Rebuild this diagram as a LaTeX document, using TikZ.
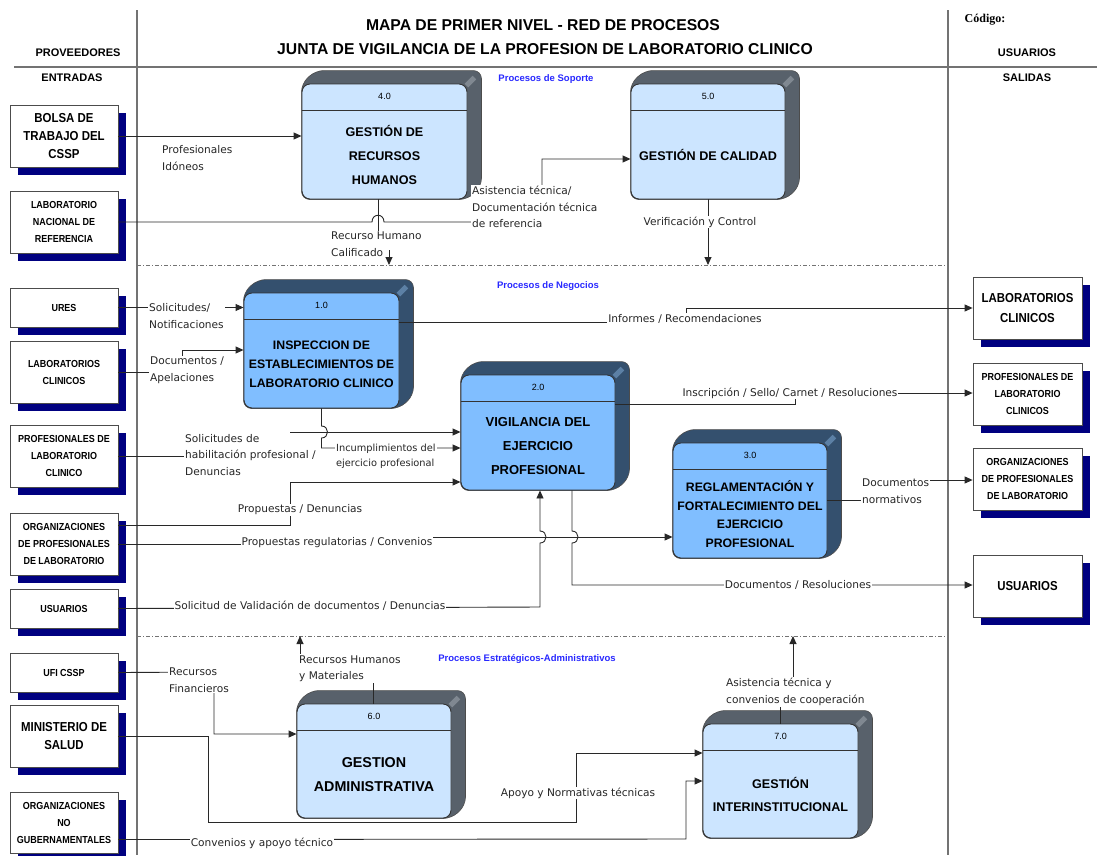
\documentclass[tikz,border=0pt]{standalone}
\usepackage{fontspec}
\setmainfont{Liberation Sans}
\newfontfamily\entfont[FakeStretch=0.88]{Liberation Sans}
\newfontfamily\lblfont{DejaVu Sans}
\newfontfamily\codfont{Liberation Serif}
\usetikzlibrary{arrows.meta,calc,shadows,backgrounds}
\definecolor{navyshadow}{RGB}{0,0,128}
\definecolor{lightface}{RGB}{204,229,255}
\definecolor{medface}{RGB}{128,190,255}
\definecolor{lightside}{RGB}{88,97,107}
\definecolor{medside}{RGB}{52,80,110}
\definecolor{lightbevel}{RGB}{128,136,145}
\definecolor{medbevel}{RGB}{92,128,165}
\definecolor{procblue}{RGB}{40,40,255}
\definecolor{framegray}{RGB}{115,115,115}
\definecolor{linegray}{RGB}{40,40,40}

\begin{document}
\begin{tikzpicture}
[
  x=1pt, y=-1pt,
  >={Triangle[length=8pt,width=7pt]},
  ent/.style={draw=black!70, fill=white, line width=0.8pt, align=center, inner sep=1pt,
    minimum width=108, minimum height=62,
    drop shadow={shadow xshift=8pt, shadow yshift=-8pt, fill=navyshadow, opacity=1}},
  bigent/.style={ent, font=\entfont\bfseries\fontsize{13}{18}\selectfont},
  smallent/.style={ent, font=\entfont\bfseries\fontsize{10.2}{17}\selectfont},
  pface/.style={draw=black!80, line width=0.9pt, rounded corners=8pt},
  lface/.style={pface, fill=lightface},
  mface/.style={pface, fill=medface},
  lside/.style={fill=lightside, draw=black!70, line width=0.6pt, rounded corners=8pt},
  mside/.style={fill=medside, draw=black!70, line width=0.6pt, rounded corners=8pt},
  lbev/.style={draw=lightbevel, line width=5pt},
  mbev/.style={draw=medbevel, line width=5pt},
  hdline/.style={draw=black!80, line width=0.9pt},
  pnum/.style={font=\fontsize{9}{10}\selectfont, inner sep=0pt},
  ptitle/.style={font=\bfseries\fontsize{12.6}{24}\selectfont, align=center, inner sep=0pt},
  flow/.style={->, line width=0.9pt, draw=linegray},
  lbl/.style={font=\lblfont\fontsize{10.6}{16.5}\selectfont, fill=white, inner sep=1pt, align=left, text=black!85},
  divline/.style={draw=framegray, line width=1pt, dash pattern=on 4pt off 2pt on 1pt off 2pt},
  frameline/.style={draw=framegray, line width=1.2pt},
  grouplbl/.style={font=\bfseries\fontsize{9.5}{11}\selectfont, text=procblue},
  colhead/.style={font=\bfseries\fontsize{11}{13}\selectfont}
]
\useasboundingbox (0,0) rectangle (1097,855);

% frame and headings
\draw[frameline] (137,10) -- (137,855);
\draw[frameline] (948,10) -- (948,855);
\draw[frameline] (14,67) -- (1097,67);
\draw[divline] (137,265) -- (948,265);
\draw[divline] (137,636) -- (948,636);

\node[font=\bfseries\fontsize{15.7}{18}\selectfont] (title1) at (543,25) {MAPA DE PRIMER NIVEL - RED DE PROCESOS};
\node[font=\bfseries\fontsize{15.7}{18}\selectfont] (title2) at (545,49) {JUNTA DE VIGILANCIA DE LA PROFESION DE LABORATORIO CLINICO};
\node[colhead] (prov) at (78,53) {PROVEEDORES};
\node[colhead] (entr) at (72,78) {ENTRADAS};
\node[font=\codfont\bfseries\fontsize{12}{14}\selectfont] (cod) at (985,20) {Código:};
\node[colhead] (usuh) at (1027,53) {USUARIOS};
\node[colhead] (sal) at (1027,78) {SALIDAS};

\node[grouplbl] (gsop) at (546,79) {Procesos de Soporte};
\node[grouplbl] (gneg) at (548,286) {Procesos de Negocios};
\node[grouplbl] (gest) at (527,659) {Procesos Estratégicos-Administrativos};

% providers
\node[bigent] (bolsa) at (64,136) {BOLSA DE\\TRABAJO DEL\\CSSP};
\node[smallent] (lnr) at (64,222) {LABORATORIO\\NACIONAL DE\\REFERENCIA};
\node[smallent, minimum height=39] (ures) at (64,307.5) {URES};
\node[smallent] (labcl) at (64,372) {LABORATORIOS\\CLINICOS};
\node[smallent] (proflab) at (64,456) {PROFESIONALES DE\\LABORATORIO\\CLINICO};
\node[smallent] (orgprof) at (64,544) {ORGANIZACIONES\\DE PROFESIONALES\\DE LABORATORIO};
\node[smallent, minimum height=39] (usu) at (64,608.5) {USUARIOS};
\node[smallent, minimum height=39] (ufi) at (64,672.5) {UFI CSSP};
\node[bigent] (minsal) at (64,736) {MINISTERIO DE\\SALUD};
\node[smallent, minimum height=61] (ong) at (64,822.5) {ORGANIZACIONES\\NO\\GUBERNAMENTALES};

% users
\node[bigent, minimum width=109, font=\entfont\bfseries\fontsize{13}{20}\selectfont] (rlab) at (1027.5,308) {LABORATORIOS\\CLINICOS};
\node[smallent, minimum width=109] (rprof) at (1027.5,394) {PROFESIONALES DE\\LABORATORIO\\CLINICOS};
\node[smallent, minimum width=109] (rorg) at (1027.5,479) {ORGANIZACIONES\\DE PROFESIONALES\\DE LABORATORIO};
\node[bigent, minimum width=109] (rusu) at (1027.5,586) {USUARIOS};

% processes
\node[lface, minimum width=165, minimum height=115] (p4) at (384.5,141.5) {};
\node[lface, minimum width=154, minimum height=115] (p5) at (708,141.5) {};
\node[mface, minimum width=155, minimum height=115] (p1) at (321.5,350.5) {};
\node[mface, minimum width=154, minimum height=115] (p2) at (538,432.5) {};
\node[mface, minimum width=154, minimum height=115] (p3) at (750,500.5) {};
\node[lface, minimum width=154, minimum height=114] (p6) at (374,761) {};
\node[lface, minimum width=155, minimum height=114] (p7) at (780.5,781) {};

\begin{scope}[on background layer]
\draw[lside] (p4.north west) -- ++(14,-13) -| ($(p4.south east)+(14,-13)$) -- (p4.south east) -- (p4.south west) -- cycle;
\draw[lside] (p5.north west) -- ++(14,-13) -| ($(p5.south east)+(14,-13)$) -- (p5.south east) -- (p5.south west) -- cycle;
\draw[mside] (p1.north west) -- ++(14,-13) -| ($(p1.south east)+(14,-13)$) -- (p1.south east) -- (p1.south west) -- cycle;
\draw[mside] (p2.north west) -- ++(14,-13) -| ($(p2.south east)+(14,-13)$) -- (p2.south east) -- (p2.south west) -- cycle;
\draw[mside] (p3.north west) -- ++(14,-13) -| ($(p3.south east)+(14,-13)$) -- (p3.south east) -- (p3.south west) -- cycle;
\draw[lside] (p6.north west) -- ++(14,-13) -| ($(p6.south east)+(14,-13)$) -- (p6.south east) -- (p6.south west) -- cycle;
\draw[lside] (p7.north west) -- ++(14,-13) -| ($(p7.south east)+(14,-13)$) -- (p7.south east) -- (p7.south west) -- cycle;
% bevel on the upper right edge
\draw[lbev] ($(p4.north east)+(-1,2)$) -- ($(p4.north east)+(7,-6)$);
\draw[lbev] ($(p5.north east)+(-1,2)$) -- ($(p5.north east)+(7,-6)$);
\draw[mbev] ($(p1.north east)+(-1,2)$) -- ($(p1.north east)+(7,-6)$);
\draw[mbev] ($(p2.north east)+(-1,2)$) -- ($(p2.north east)+(7,-6)$);
\draw[mbev] ($(p3.north east)+(-1,2)$) -- ($(p3.north east)+(7,-6)$);
\draw[lbev] ($(p6.north east)+(-1,2)$) -- ($(p6.north east)+(7,-6)$);
\draw[lbev] ($(p7.north east)+(-1,2)$) -- ($(p7.north east)+(7,-6)$);
\end{scope}

\draw[hdline] ($(p4.north west)+(0,27)$) -- ($(p4.north east)+(0,27)$);
\draw[hdline] ($(p5.north west)+(0,27)$) -- ($(p5.north east)+(0,27)$);
\draw[hdline] ($(p1.north west)+(0,27)$) -- ($(p1.north east)+(0,27)$);
\draw[hdline] ($(p2.north west)+(0,27)$) -- ($(p2.north east)+(0,27)$);
\draw[hdline] ($(p3.north west)+(0,27)$) -- ($(p3.north east)+(0,27)$);
\draw[hdline] ($(p6.north west)+(0,27)$) -- ($(p6.north east)+(0,27)$);
\draw[hdline] ($(p7.north west)+(0,27)$) -- ($(p7.north east)+(0,27)$);

\node[pnum] (n4) at ($(p4.north)+(0,13)$) {4.0};
\node[pnum] (n5) at ($(p5.north)+(0,13)$) {5.0};
\node[pnum] (n1) at ($(p1.north)+(0,13)$) {1.0};
\node[pnum] (n2) at ($(p2.north)+(0,13)$) {2.0};
\node[pnum] (n3) at ($(p3.north)+(0,13)$) {3.0};
\node[pnum] (n6) at ($(p6.north)+(0,13)$) {6.0};
\node[pnum] (n7) at ($(p7.north)+(0,13)$) {7.0};

\node[ptitle] (t4) at ($(p4.center)+(0,13.5)$) {GESTIÓN DE\\RECURSOS\\HUMANOS};
\node[ptitle] (t5) at ($(p5.center)+(0,13.5)$) {GESTIÓN DE CALIDAD};
\node[ptitle, font=\bfseries\fontsize{12.3}{19}\selectfont] (t1) at ($(p1.center)+(0,13.5)$) {INSPECCION DE\\ESTABLECIMIENTOS DE\\LABORATORIO CLINICO};
\node[ptitle, font=\bfseries\fontsize{13}{24}\selectfont] (t2) at ($(p2.center)+(0,13.5)$) {VIGILANCIA DEL\\EJERCICIO\\PROFESIONAL};
\node[ptitle, font=\bfseries\fontsize{12.3}{18.5}\selectfont] (t3) at ($(p3.center)+(0,13.5)$) {REGLAMENTACIÓN Y\\FORTALECIMIENTO DEL\\EJERCICIO\\PROFESIONAL};
\node[ptitle, font=\bfseries\fontsize{14.3}{24}\selectfont] (t6) at ($(p6.center)+(0,13.5)$) {GESTION\\ADMINISTRATIVA};
\node[ptitle, font=\bfseries\fontsize{12.6}{23}\selectfont] (t7) at ($(p7.center)+(0,13.5)$) {GESTIÓN\\INTERINSTITUCIONAL};

% free ends on the dividers
\coordinate (d4) at (389,265);
\coordinate (d5) at (708,265);
\coordinate (u6) at (300,636);
\coordinate (u7) at (793,636);

% flows
\draw[flow] (bolsa.east) -- (bolsa.east -| p4.west);
\draw[flow] (lnr.east) -- (372,222) .. controls (372,213) and (384,213) .. (384,222) -- (542,222) -- (542,159) -- (p5.west |- 542,159);
\draw[flow, -] ($(p4.south)+(-6.5,0)$) -- (378,245) -- (389,245) -- (389,252);
\draw[flow] (p5.south) -- (d5);
\draw[flow] (ures.east) -- (ures.east -| p1.west);
\draw[flow] (labcl.east) -- (182,372) -- (182,350) -- (p1.west |- 182,350);
\draw[flow] (proflab.east) -- (290,456) -- (290,432) -- (p2.west |- 290,432);
\draw[flow] (p1.south) -- (321.5,426) .. controls (329.5,426) and (329.5,438) .. (321.5,438) -- (321.5,448) -- (p2.west |- 321.5,448);
\draw[flow] ($(orgprof.east)+(0,-19)$) -- (290,525) -- (290,482) -- (p2.west |- 290,482);
\draw[flow] (orgprof.east) -- (400,544) -- (400,537) -- (p3.west |- 400,537);
\draw[flow] (usu.east) -- (540,607) -- (540,543) .. controls (548,543) and (548,531) .. (540,531) -- (p2.south -| 540,0);
\draw[flow] (p2.south -| 572,0) -- (572,531) .. controls (580,531) and (580,543) .. (572,543) -- (572,585) -- (rusu.west |- 572,585);
\draw[flow] (p1.east |- 0,322) -- (686,322) -- (686,308) -- (rlab.west |- 686,308);
\draw[flow] (p2.east |- 0,404) -- (795,404) -- (795,393) -- (rprof.west |- 795,393);
\draw[flow] (p3.east |- 0,500) -- (895,500) -- (895,480) -- (rorg.west |- 895,480);
\draw[flow] (ufi.east) -- (214,672) -- (214,734) -- (p6.west |- 214,734);
\draw[flow] (minsal.east) -- (208,736) -- (208,822) -- (576,822) -- (576,753) -- (p7.west |- 576,753);
\draw[flow] ($(ong.east)+(0,17)$) -- (686,839) -- (686,781) -- (p7.west |- 686,781);
\draw[flow] (p6.north -| 373,0) -- (373,668) -- (300,668) -- (u6);
\draw[flow] (p7.north -| 780,0) -- (780,690) -- (793,690) -- (u7);

% labels
\node[lbl, anchor=west] (l1) at (161,158) {Profesionales\\Idóneos};
\node[lbl, anchor=west] (l2) at (471,207) {Asistencia técnica/\\Documentación técnica\\de referencia};
\node[lbl, anchor=west] (l3) at (330,244) {Recurso Humano\\Calificado};
\node[lbl] (l4) at (700,222) {Verificación y Control};
\node[lbl, anchor=west] (l5) at (148,316) {Solicitudes/\\Notificaciones};
\node[lbl, anchor=west] (l6) at (149,370) {Documentos /\\Apelaciones};
\node[lbl, anchor=north west] (l7) at (184,433) {Solicitudes de\\habilitación profesional /\\Denuncias};
\node[lbl, anchor=west, font=\lblfont\fontsize{9.8}{15}\selectfont] (l8) at (335,456.5) {Incumplimientos del\\ejercicio profesional};
\node[lbl] (l9) at (300,510) {Propuestas / Denuncias};
\node[lbl] (l10) at (337,543) {Propuestas regulatorias / Convenios};
\node[lbl] (l11) at (310,606) {Solicitud de Validación de documentos / Denuncias};
\node[lbl] (l12) at (685,319) {Informes / Recomendaciones};
\node[lbl] (l13) at (790,393) {Inscripción / Sello/ Carnet / Resoluciones};
\node[lbl, anchor=west] (l14) at (861,491) {Documentos\\normativos};
\node[lbl] (l15) at (798,585) {Documentos / Resoluciones};
\node[lbl, anchor=west] (l16) at (168,680) {Recursos\\Financieros};
\node[lbl, anchor=west] (l17) at (298,668.5) {Recursos Humanos\\y Materiales};
\node[lbl] (l18) at (578,793) {Apoyo y Normativas técnicas};
\node[lbl] (l19) at (262,843) {Convenios y apoyo técnico};
\node[lbl, anchor=west] (l20) at (725,692) {Asistencia técnica y\\convenios de cooperación};

\draw[flow] (389,250) -- (d4);
\end{tikzpicture}
\end{document}
